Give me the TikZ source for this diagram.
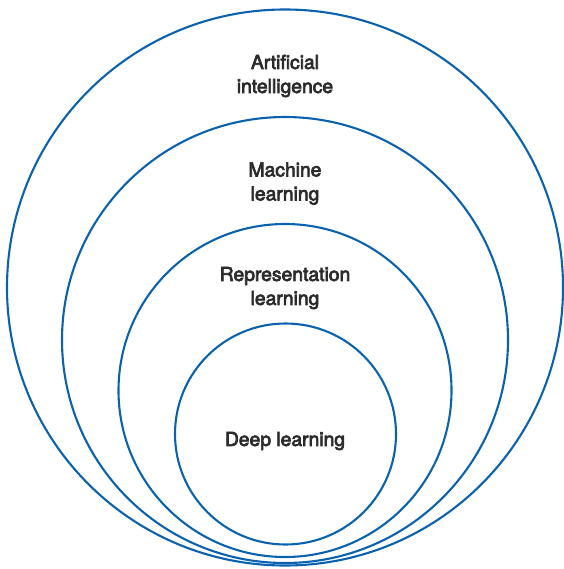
\documentclass[tikz,border=0pt]{standalone}
\usepackage{fontspec}
\setmainfont{TeX Gyre Heros}[FakeBold=3.5]
\definecolor{ringblue}{HTML}{0A62AE}
\definecolor{txtgray}{HTML}{2B2B2B}
\begin{document}
\begin{tikzpicture}[x=1pt,y=-1pt,
  ring/.style={draw=ringblue,line width=2.1pt,circle,inner sep=0pt},
  lbl/.style={text=txtgray,align=center,font=\fontsize{19.3}{24}\selectfont,inner sep=0pt}]
\useasboundingbox (0,0) rectangle (563,569);
\node[ring,minimum size=556pt] (ai) at (285,287.5) {};
\node[ring,minimum size=446pt] (ml) at (285,340) {};
\node[ring,minimum size=333pt] (rl) at (285,390.5) {};
\node[ring,minimum size=221pt] (dl) at (285.5,434) {};
\node[lbl] (tai) at (285,76) {Artificial\\intelligence};
\node[lbl] (tml) at (285,183.5) {Machine\\learning};
\node[lbl] (trl) at (285,288) {Representation\\learning};
\node[lbl] (tdl) at (285,441) {Deep learning};
\end{tikzpicture}
\end{document}
